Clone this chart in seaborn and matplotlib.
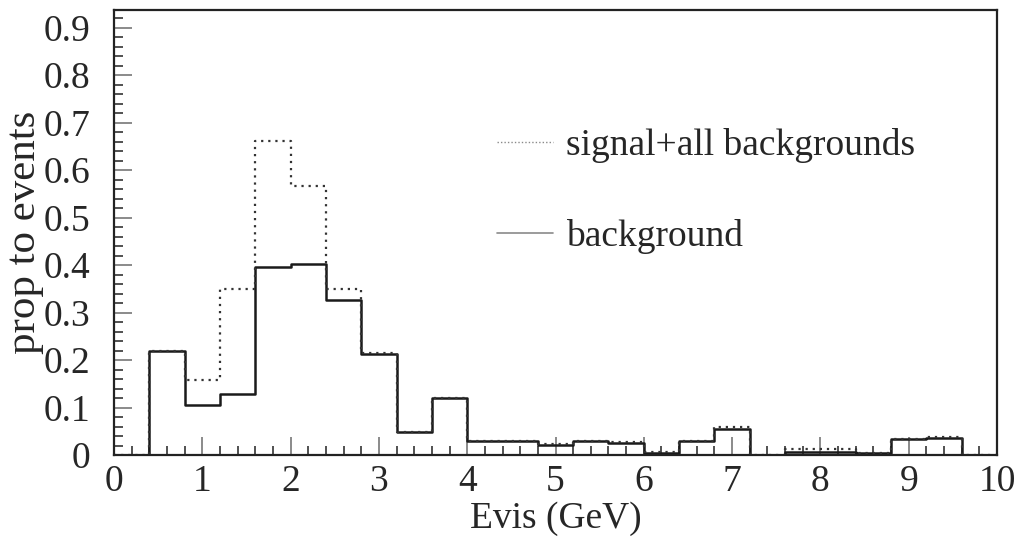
import numpy as np
import pandas as pd
import matplotlib
matplotlib.use("Agg")
import matplotlib.pyplot as plt
from matplotlib.ticker import MultipleLocator, FuncFormatter
from matplotlib.lines import Line2D
import seaborn as sns

# ---- data ----
bin_edges = [round(0.4 * i, 2) for i in range(26)]
background = [0.0, 0.218, 0.105, 0.129, 0.396, 0.403, 0.326, 0.212, 0.048, 0.119,
              0.029, 0.029, 0.022, 0.029, 0.026, 0.004, 0.029, 0.054, 0.0, 0.007,
              0.007, 0.005, 0.034, 0.035, 0.0]
signal_all = [0.0, 0.219, 0.158, 0.350, 0.662, 0.566, 0.350, 0.214, 0.049, 0.120,
              0.029, 0.029, 0.024, 0.029, 0.028, 0.007, 0.029, 0.058, 0.0, 0.012,
              0.012, 0.005, 0.034, 0.038, 0.0]
legend_labels = ["signal+all backgrounds", "background"]
x_label = "Evis (GeV)"
y_label = "prop to events"

edges = np.array(bin_edges)
centers = (edges[:-1] + edges[1:]) / 2
df = pd.DataFrame({"evis": centers, "bkg": background, "sig": signal_all})

sns.set_style("ticks")
plt.rcParams["font.family"] = ["Liberation Serif", "DejaVu Serif"]

W, H = 1018, 543
L, R, T, B = 114, 997, 10, 455
fig = plt.figure(figsize=(W / 100, H / 100), dpi=100)
ax = fig.add_axes([L / W, 1 - B / H, (R - L) / W, (B - T) / H])

sns.histplot(data=df, x="evis", weights="bkg", bins=bin_edges, element="step",
             fill=False, color="#1a1a1a", linewidth=1.8, ax=ax)
sns.histplot(data=df, x="evis", weights="sig", bins=bin_edges, element="step",
             fill=False, color="#333333", linewidth=1.6, linestyle=(0, (1, 2.2)), ax=ax)

ax.set_xlim(0, 10)
ax.set_ylim(0, 0.937)

ax.xaxis.set_major_locator(MultipleLocator(1))
ax.xaxis.set_minor_locator(MultipleLocator(0.2))
ax.yaxis.set_major_locator(MultipleLocator(0.1))
ax.yaxis.set_minor_locator(MultipleLocator(0.02))
ax.yaxis.set_major_formatter(FuncFormatter(lambda v, p: "0" if abs(v) < 1e-9 else f"{v:.1f}"))
ax.xaxis.set_major_formatter(FuncFormatter(lambda v, p: f"{v:.0f}"))

ax.tick_params(axis="both", which="major", direction="in", length=13, width=1.2,
               color="#777777", labelsize=27)
ax.tick_params(axis="both", which="minor", direction="in", length=6.5, width=1.1,
               color="#222222")
ax.tick_params(axis="x", which="major", pad=6.5)
ax.tick_params(axis="y", which="major", pad=17)

for s in ax.spines.values():
    s.set_visible(True)
    s.set_linewidth(1.6)
    s.set_color("#222222")

ax.set_xlabel(x_label, fontsize=27, va="top")
ax.xaxis.set_label_coords(0.5, -(501 - B) / (B - T))
ax.set_ylabel(y_label, fontsize=31)
ax.yaxis.set_label_coords(-(L - 44) / (R - L), 0.5)

handles = [Line2D([], [], color="#8a8a8a", linewidth=1.0, linestyle=(0, (1, 1.5))),
           Line2D([], [], color="#8a8a8a", linewidth=1.2)]
leg = ax.legend(handles, legend_labels, loc="upper left",
                bbox_to_anchor=(497 / W, 1 - 128 / H), bbox_transform=fig.transFigure,
                frameon=False, fontsize=27, handlelength=1.5, handletextpad=0.35,
                labelspacing=1.5, borderpad=0, borderaxespad=0)

fig.savefig("out.png", dpi=100, facecolor="white")
